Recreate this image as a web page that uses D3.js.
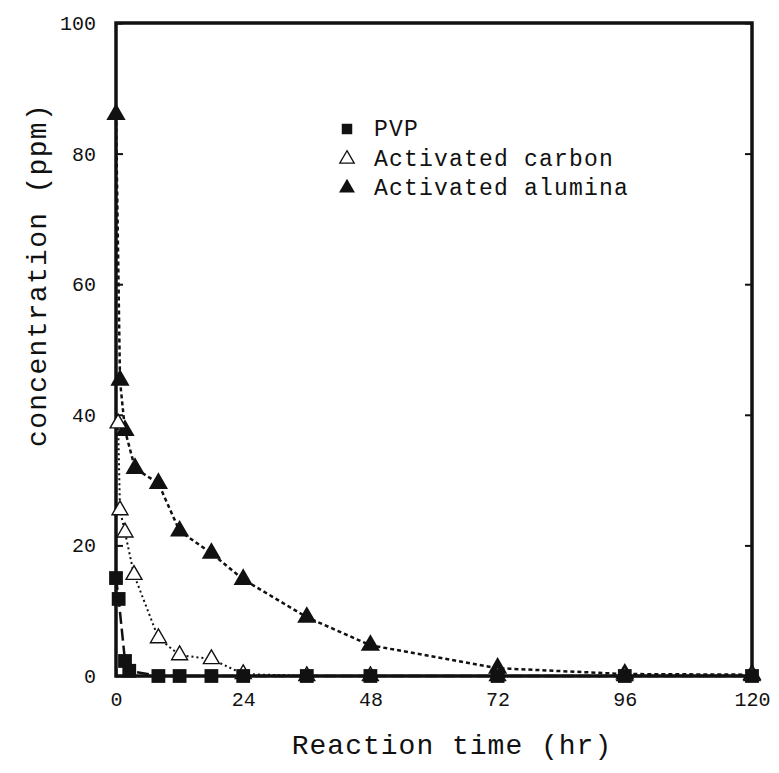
<!DOCTYPE html>
<html>
<head>
<meta charset="utf-8">
<script src="https://cdn.jsdelivr.net/npm/d3@7"></script>
<style>
  html, body { margin: 0; padding: 0; background: #fff; }
  svg text { font-family: "Liberation Mono", "DejaVu Sans Mono", monospace; fill: #111; }
</style>
</head>
<body>
<svg id="chart" width="779" height="773"></svg>
<script>
// ---- data ----
const xTicks = [0, 24, 48, 72, 96, 120];
const yTicks = [0, 20, 40, 60, 80, 100];

const pvpTime = [0, 0.5, 1.7, 2.5, 8, 12, 18, 24, 36, 48, 72, 96, 120];
const pvpConc = [15, 11.8, 2.3, 0.8, 0, 0, 0, 0, 0, 0, 0, 0, 0];

const carbonTime = [0.4, 0.75, 1.7, 3.4, 8, 12, 18, 24, 36, 48, 72, 96, 120];
const carbonConc = [38.7, 25.4, 22, 15.5, 5.8, 3.2, 2.6, 0.3, 0, 0, 0, 0, 0];

const aluminaTime = [0, 0.75, 1.7, 3.6, 8, 12, 18, 24, 36, 48, 72, 96, 120];
const aluminaConc = [86, 45.3, 37.6, 31.8, 29.5, 22.2, 18.8, 14.8, 9.0, 4.7, 1.2, 0.3, 0.2];

const seriesNames = ["PVP", "Activated carbon", "Activated alumina"];

// ---- layout ----
const svg = d3.select("#chart");
const mLeft = 116, mRight = 752, mTop = 23, mBottom = 676;
const x = d3.scaleLinear().domain([0, 120]).range([mLeft, mRight]);
const y = d3.scaleLinear().domain([0, 100]).range([mBottom, mTop]);

// axes (ticks inward)
const gx = svg.append("g").attr("transform", `translate(0,${mBottom})`)
  .call(d3.axisBottom(x).tickValues(xTicks).tickSizeInner(-7).tickSizeOuter(0).tickPadding(16));
const gy = svg.append("g").attr("transform", `translate(${mLeft},0)`)
  .call(d3.axisLeft(y).tickValues(yTicks).tickSizeInner(-7).tickSizeOuter(0).tickPadding(20));
const gyr = svg.append("g").attr("transform", `translate(${mRight},0)`)
  .call(d3.axisRight(y).tickValues(yTicks).tickSizeInner(-7).tickSizeOuter(0).tickFormat(""));
[gx, gy, gyr].forEach(g => {
  g.select(".domain").remove();
  g.selectAll(".tick line").attr("stroke", "#111").attr("stroke-width", 2);
  g.selectAll(".tick text").attr("font-size", 20).style("font-family", '"Liberation Mono", monospace');
});

// frame
svg.append("rect").attr("x", mLeft).attr("y", mTop)
  .attr("width", mRight - mLeft).attr("height", mBottom - mTop)
  .attr("fill", "none").attr("stroke", "#111").attr("stroke-width", 3.5);

// axis titles
svg.append("text").attr("x", (mLeft + mRight) / 2 + 18).attr("y", 754)
  .attr("text-anchor", "middle").attr("font-size", 28).attr("letter-spacing", 1)
  .text("Reaction time (hr)");
svg.append("text").attr("transform", `translate(46,275) rotate(-90)`)
  .attr("text-anchor", "middle").attr("font-size", 28).attr("letter-spacing", 1.3)
  .text("concentration (ppm)");

// lines
const lineGen = d3.line().x(d => x(d[0])).y(d => y(d[1]));
const pvp = pvpTime.map((t, i) => [t, pvpConc[i]]);
const carbon = carbonTime.map((t, i) => [t, carbonConc[i]]);
const alumina = aluminaTime.map((t, i) => [t, aluminaConc[i]]);

svg.append("path").datum(alumina).attr("d", lineGen).attr("fill", "none")
  .attr("stroke", "#111").attr("stroke-width", 2.5).attr("stroke-dasharray", "4,3");
svg.append("path").datum(carbon).attr("d", lineGen).attr("fill", "none")
  .attr("stroke", "#111").attr("stroke-width", 2).attr("stroke-dasharray", "2,3");
svg.append("path").datum(pvp).attr("d", lineGen).attr("fill", "none")
  .attr("stroke", "#111").attr("stroke-width", 2.5).attr("stroke-dasharray", "12,5");

// markers
const sq = d3.symbol().type(d3.symbolSquare).size(190);
const triFilled = d3.symbol().type(d3.symbolTriangle).size(160);
const triOpen = d3.symbol().type(d3.symbolTriangle).size(110);

svg.append("g").selectAll("path").data(alumina).join("path")
  .attr("d", triFilled).attr("transform", d => `translate(${x(d[0])},${y(d[1])})`)
  .attr("fill", "#111");
svg.append("g").selectAll("path").data(carbon).join("path")
  .attr("d", triOpen).attr("transform", d => `translate(${x(d[0])},${y(d[1])})`)
  .attr("fill", "#fff").attr("stroke", "#111").attr("stroke-width", 1.4);
svg.append("g").selectAll("path").data(pvp).join("path")
  .attr("d", sq).attr("transform", d => `translate(${x(d[0])},${y(d[1])})`)
  .attr("fill", "#111");

// legend
const legendY = [129, 159, 188];
const legendSym = [
  {d: d3.symbol().type(d3.symbolSquare).size(110)(), fill: "#111", stroke: "none"},
  {d: d3.symbol().type(d3.symbolTriangle).size(90)(), fill: "#fff", stroke: "#111"},
  {d: d3.symbol().type(d3.symbolTriangle).size(110)(), fill: "#111", stroke: "none"}
];
const lg = svg.append("g");
seriesNames.forEach((name, i) => {
  lg.append("path").attr("d", legendSym[i].d)
    .attr("transform", `translate(347,${legendY[i]})`)
    .attr("fill", legendSym[i].fill).attr("stroke", legendSym[i].stroke).attr("stroke-width", 1.3);
  lg.append("text").attr("x", 374).attr("y", legendY[i] + 7)
    .attr("font-size", 23).attr("letter-spacing", 1.2).text(name);
});
</script>
</body>
</html>
